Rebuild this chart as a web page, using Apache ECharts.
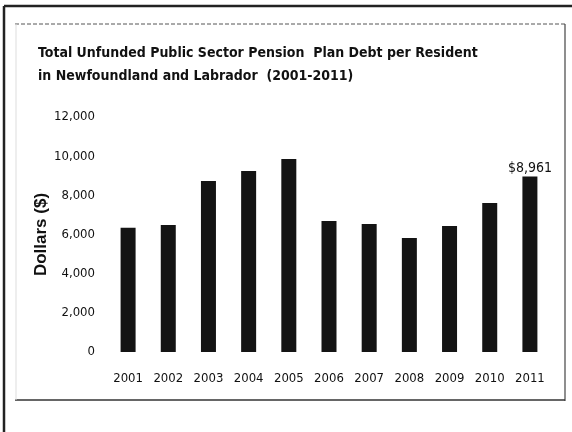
<!DOCTYPE html>
<html>
<head>
<meta charset="utf-8">
<script src="https://cdn.jsdelivr.net/npm/echarts@6/dist/echarts.min.js"></script>
<style>
  html, body { margin: 0; padding: 0; background: #fff; }
  #chart { width: 572px; height: 432px; }
</style>
</head>
<body>
<div id="chart"></div>
<script>
// data
const years = ["2001", "2002", "2003", "2004", "2005", "2006", "2007", "2008", "2009", "2010", "2011"];
const debtPerResident = [6350, 6480, 8730, 9240, 9850, 6690, 6540, 5820, 6430, 7610, 8961];
const labelledYear = "2011";

const narrow = "'Liberation Sans Narrow', 'DejaVu Sans Condensed', 'Liberation Sans', sans-serif";

const chart = echarts.init(document.getElementById("chart"));

const option = {
  backgroundColor: "#fff",
  animation: false,
  title: {
    text: "Total Unfunded Public Sector Pension  Plan Debt per Resident\nin Newfoundland and Labrador  (2001-2011)",
    left: 33,
    top: 37,
    textStyle: {
      fontFamily: narrow,
      fontSize: 14,
      fontWeight: "bold",
      color: "#111",
      lineHeight: 23,
    },
  },
  grid: {
    left: 108,
    right: 22,
    top: 117,
    bottom: 80,
  },
  xAxis: {
    type: "category",
    data: years,
    axisLine: { show: false },
    axisTick: { show: false },
    axisLabel: {
      interval: 0,
      margin: 20,
      fontFamily: narrow,
      fontSize: 13,
      color: "#111",
    },
  },
  yAxis: {
    type: "value",
    min: 0,
    max: 12000,
    interval: 2000,
    name: "Dollars ($)",
    nameLocation: "middle",
    nameGap: 58,
    nameMoveOverlap: false,
    nameTextStyle: {
      fontFamily: "'Liberation Sans', Arial, sans-serif",
      fontSize: 17,
      fontWeight: "bold",
      color: "#111",
    },
    axisLine: { show: false },
    axisTick: { show: false },
    splitLine: { show: false },
    axisLabel: {
      margin: 13,
      fontFamily: narrow,
      fontSize: 13,
      color: "#111",
    },
  },
  series: [
    {
      type: "bar",
      data: debtPerResident.map(function (v, i) {
        if (years[i] !== labelledYear) return v;
        return {
          value: v,
          label: {
            show: true,
            position: "top",
            distance: 1,
            formatter: function (p) {
              return "$" + echarts.format.addCommas(p.value);
            },
            fontFamily: narrow,
            fontSize: 14,
            color: "#111",
          },
        };
      }),
      barWidth: 15,
      itemStyle: { color: "#141414" },
    },
  ],
  // page frame round the chart, as in the scan
  graphic: [
    { type: "line", shape: { x1: 4, y1: 6, x2: 4, y2: 432 }, style: { stroke: "#222", lineWidth: 2.5 } },
    { type: "line", shape: { x1: 4, y1: 6, x2: 572, y2: 6 }, style: { stroke: "#222", lineWidth: 2.5 } },
    { type: "line", shape: { x1: 15, y1: 24, x2: 566, y2: 24 }, style: { stroke: "#555", lineWidth: 1, lineDash: [4, 2] } },
    { type: "line", shape: { x1: 565, y1: 24, x2: 565, y2: 401 }, style: { stroke: "#444", lineWidth: 1.2 } },
    { type: "line", shape: { x1: 15, y1: 400, x2: 565, y2: 400 }, style: { stroke: "#333", lineWidth: 1.5 } },
    { type: "line", shape: { x1: 16, y1: 24, x2: 16, y2: 400 }, style: { stroke: "#ddd", lineWidth: 1 } },
  ],
};

chart.setOption(option);
</script>
</body>
</html>
